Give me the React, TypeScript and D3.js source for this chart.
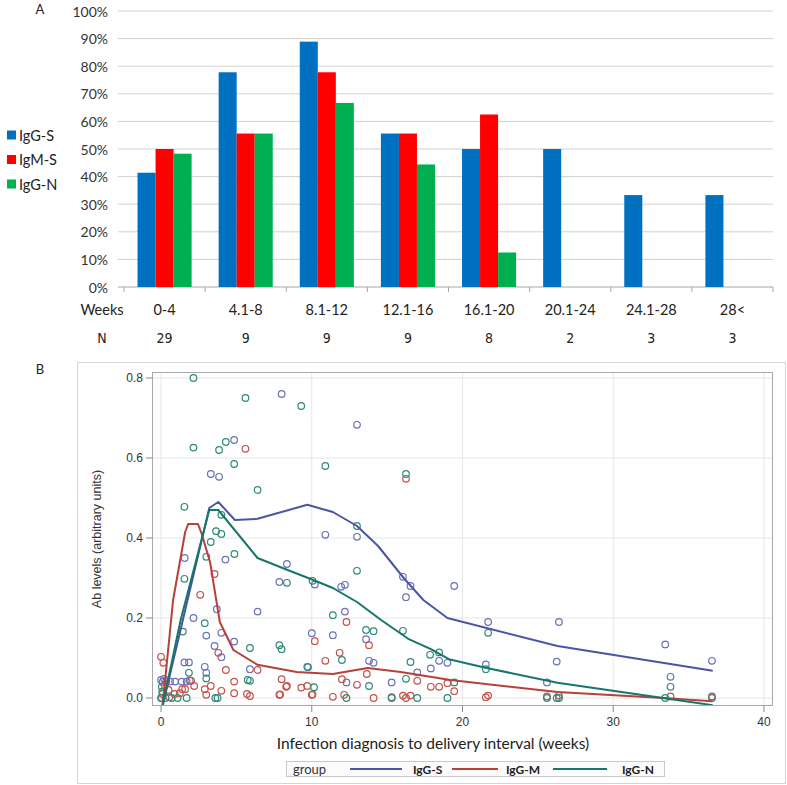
import React from 'react';
import * as d3 from 'd3';

// ---- Panel A data ----
const weekBins = ['0-4', '4.1-8', '8.1-12', '12.1-16', '16.1-20', '20.1-24', '24.1-28', '28<'];
const binN = [29, 9, 9, 9, 8, 2, 3, 3];
const barSeries = ['IgG-S', 'IgM-S', 'IgG-N'];
const igGS = [41.4, 77.8, 88.9, 55.6, 50, 50, 33.3, 33.3];
const igMS = [50, 55.6, 77.8, 55.6, 62.5, 0, 0, 0];
const igGN = [48.3, 55.6, 66.7, 44.4, 12.5, 0, 0, 0];
const pctTicks = [0, 10, 20, 30, 40, 50, 60, 70, 80, 90, 100];

// ---- Panel B data ----
const groups = ['IgG-S', 'IgG-M', 'IgG-N'];
const xTicksB = [0, 10, 20, 30, 40];
const yTicksB = [0, 0.2, 0.4, 0.6, 0.8];

// points [weeks, Ab level]
const ptsS: [number, number][] = [
  [2.1, 0.822], [8.0, 0.76], [13.0, 0.683], [4.85, 0.645], [3.3, 0.56], [3.85, 0.553], [10.9, 0.408], [13.0, 0.403],
  [1.57, 0.35], [4.27, 0.346], [8.35, 0.335], [7.85, 0.29], [10.2, 0.284], [11.95, 0.278], [12.2, 0.283], [3.7, 0.222],
  [6.4, 0.216], [12.2, 0.216], [2.15, 0.2], [16.05, 0.303], [16.55, 0.28], [16.25, 0.252], [19.45, 0.28], [21.7, 0.19],
  [26.4, 0.19], [33.45, 0.134], [26.25, 0.091], [36.55, 0.093], [33.8, 0.053], [21.55, 0.084], [25.6, 0.039], [18.45, 0.093],
  [19.0, 0.088], [17.9, 0.074], [17.0, 0.064], [15.3, 0.039], [10.0, 0.162], [11.4, 0.157], [13.6, 0.147], [13.8, 0.093],
  [14.1, 0.088], [5.9, 0.072], [9.7, 0.078], [12.3, 0.039], [3.0, 0.156], [4.0, 0.163], [3.55, 0.13], [4.0, 0.102],
  [4.85, 0.141], [1.55, 0.089], [1.85, 0.089], [2.9, 0.078], [3.0, 0.063], [0.0, 0.045], [0.1, 0.04], [0.2, 0.048],
  [0.35, 0.042], [0.6, 0.041], [0.93, 0.041], [1.37, 0.041], [1.7, 0.041], [1.9, 0.044], [0.05, 0.0],
];
const ptsM: [number, number][] = [
  [5.6, 0.623], [16.25, 0.548], [3.55, 0.31], [2.6, 0.258], [12.3, 0.19], [10.2, 0.142], [13.8, 0.132], [11.85, 0.113],
  [10.9, 0.093], [6.4, 0.07], [13.65, 0.06], [8.0, 0.047], [8.3, 0.028], [9.3, 0.026], [9.7, 0.03], [12.0, 0.047],
  [13.0, 0.033], [17.0, 0.043], [19.0, 0.037], [19.45, 0.017], [17.9, 0.028], [18.45, 0.028], [15.3, 0.002], [16.05, 0.006],
  [16.55, 0.006], [16.25, 0.0], [21.55, 0.002], [21.7, 0.006], [25.6, 0.004], [26.4, 0.006], [33.8, 0.004], [36.55, 0.004],
  [5.9, 0.005], [7.85, 0.008], [10.0, 0.008], [11.4, 0.003], [12.15, 0.008], [14.1, 0.0], [0.0, 0.103], [0.15, 0.088],
  [3.8, 0.113], [4.3, 0.07], [2.0, 0.043], [2.2, 0.03], [1.4, 0.022], [0.9, 0.01], [0.5, 0.02], [0.25, 0.032],
  [2.9, 0.022], [3.3, 0.03], [3.0, 0.008], [4.0, 0.018], [4.85, 0.041], [4.85, 0.012], [5.7, 0.01], [7.9, 0.009],
  [8.35, 0.03], [10.05, 0.009], [1.6, 0.022], [1.25, 0.012], [0.55, 0.002], [0.1, 0.01],
];
const ptsN: [number, number][] = [
  [2.15, 0.80], [5.6, 0.75], [9.3, 0.73], [2.15, 0.626], [3.85, 0.62], [4.3, 0.64], [4.85, 0.585], [10.9, 0.58],
  [6.4, 0.52], [1.55, 0.478], [4.0, 0.458], [13.0, 0.43], [3.65, 0.417], [4.0, 0.41], [3.3, 0.39], [3.0, 0.353],
  [4.87, 0.36], [1.55, 0.298], [8.35, 0.288], [10.05, 0.293], [13.0, 0.318], [11.4, 0.207], [16.25, 0.56], [21.7, 0.163],
  [33.8, 0.028], [21.55, 0.072], [16.05, 0.168], [16.55, 0.09], [17.85, 0.108], [18.45, 0.114], [16.25, 0.048], [19.45, 0.039],
  [15.3, 0.0], [17.0, 0.0], [19.0, 0.0], [25.6, 0.0], [26.25, 0.0], [26.4, 0.0], [33.45, 0.0], [36.55, 0.0],
  [13.6, 0.17], [14.1, 0.167], [5.9, 0.125], [7.85, 0.132], [8.0, 0.122], [12.0, 0.095], [9.75, 0.077], [5.9, 0.043],
  [10.15, 0.027], [13.8, 0.03], [12.3, 0.0], [1.45, 0.166], [2.9, 0.187], [1.85, 0.063], [3.0, 0.049], [5.75, 0.045],
  [0.0, 0.0], [0.3, 0.0], [0.7, 0.0], [1.1, 0.0], [1.7, 0.0], [3.6, 0.0], [3.75, 0.0], [0.05, 0.028], [0.08, 0.016],
];

// smoothed fit lines
const fitS: [number, number][] = [
  [0.1, -0.02], [3.2, 0.475], [3.8, 0.49], [4.9, 0.445], [6.4, 0.448], [9.7, 0.483], [11.4, 0.465], [13.0, 0.43],
  [14.4, 0.38], [16.1, 0.30], [17.4, 0.245], [19.0, 0.20], [26.3, 0.13], [36.6, 0.068],
];
const fitM: [number, number][] = [
  [0.1, -0.02], [0.8, 0.245], [1.6, 0.415], [1.8, 0.435], [2.45, 0.435], [2.7, 0.41], [3.25, 0.34], [3.9, 0.19],
  [4.8, 0.12], [6.4, 0.083], [9.0, 0.065], [11.4, 0.06], [13.7, 0.075], [15.9, 0.065], [19.2, 0.045], [26.3, 0.015],
  [33.3, 0.0], [36.6, -0.008],
];
const fitN: [number, number][] = [
  [0.1, -0.02], [1.3, 0.195], [3.2, 0.47], [3.8, 0.47], [6.4, 0.35], [8.4, 0.32], [10.1, 0.295], [11.4, 0.275],
  [13.0, 0.24], [14.6, 0.195], [16.4, 0.148], [17.9, 0.122], [19.1, 0.097], [21.6, 0.075], [26.3, 0.038], [33.3, 0.0],
  [36.6, -0.018],
];

const barColors = ['#0070C0', '#FF0000', '#00B050'];
const lineColors = ['#4a55a5', '#b5413a', '#16766a'];
const markColors = ['#6a72b8', '#c4514a', '#2e8b76'];

const fontA = "Lato, 'Open Sans', sans-serif";
const fontN = "'DejaVu Sans Condensed', 'Liberation Sans Narrow', 'DejaVu Sans', sans-serif";
const fontB = "'Liberation Sans', Arial, sans-serif";

export default function App() {
  const W = 787;
  const H = 785;

  // Panel A scales
  const xA = d3.scaleBand<string>().domain(weekBins).range([124, 773]);
  const xInner = d3.scaleBand<string>().domain(barSeries).range([0, xA.bandwidth()]).paddingOuter(0.75);
  const yA = d3.scaleLinear().domain([0, 100]).range([287, 11]);
  const barVals = [igGS, igMS, igGN];

  // Panel B scales
  const xB = d3.scaleLinear().domain([-0.6, 40.6]).range([152, 773]);
  const yB = d3.scaleLinear().domain([-0.02, 0.815]).range([706, 372]);
  const line = d3.line<[number, number]>().x(d => xB(d[0])).y(d => yB(d[1]));
  const pts = [ptsS, ptsM, ptsN];
  const fits = [fitS, fitM, fitN];

  const legendItems = [
    { x1: 350, x2: 402, tx: 413 },
    { x1: 452, x2: 498, tx: 506 },
    { x1: 553, x2: 607, tx: 622 },
  ];

  return (
    <div style={{ position: 'absolute', left: 0, top: 0 }}>
      <svg width={W} height={H} style={{ display: 'block', background: '#fff' }}>
        {/* ===== Panel A ===== */}
        <text x={40} y={9} fontFamily={fontA} fontSize={13} fill="#222" textAnchor="middle" dominantBaseline="central">A</text>
        <g>
          {pctTicks.map(t => (
            <g key={t}>
              <line x1={118} x2={773} y1={yA(t)} y2={yA(t)} stroke={t === 0 ? '#a6a6a6' : '#d0d0d0'} strokeWidth={1} />
              <text x={108} y={yA(t)} fontFamily={fontA} fontSize={14} fill="#333" textAnchor="end" dominantBaseline="central">{t}%</text>
            </g>
          ))}
          {[...weekBins.map(b => xA(b)!), 773].map((x, i) => (
            <line key={i} x1={x} x2={x} y1={287} y2={292} stroke="#a6a6a6" />
          ))}
          {weekBins.map((b, i) => (
            <g key={b}>
              {barSeries.map((s, j) => {
                const v = barVals[j][i];
                if (!v) return null;
                return (
                  <rect key={s} x={xA(b)! + xInner(s)!} y={yA(v)} width={xInner.bandwidth()} height={yA(0) - yA(v)} fill={barColors[j]} />
                );
              })}
              <text x={xA(b)! + xA.bandwidth() / 2} y={309} fontFamily={fontA} fontSize={14.5} fill="#222" textAnchor="middle" dominantBaseline="central">{b}</text>
              <text x={xA(b)! + xA.bandwidth() / 2} y={338} fontFamily={fontN} fontStretch="condensed" fontSize={14} fill="#222" textAnchor="middle" dominantBaseline="central">{binN[i]}</text>
            </g>
          ))}
          <text x={102} y={309} fontFamily={fontA} fontSize={14.5} fill="#222" textAnchor="middle" dominantBaseline="central">Weeks</text>
          <text x={102} y={338} fontFamily={fontN} fontStretch="condensed" fontSize={14} fill="#222" textAnchor="middle" dominantBaseline="central">N</text>
          {barSeries.map((s, j) => (
            <g key={s} transform={`translate(7, ${135 + j * 24.5})`}>
              <rect x={0} y={-4.5} width={9} height={9} fill={barColors[j]} />
              <text x={12} y={0} fontFamily={fontA} fontSize={14.5} fill="#222" dominantBaseline="central">{s}</text>
            </g>
          ))}
        </g>

        {/* ===== Panel B ===== */}
        <text x={40} y={369} fontFamily={fontA} fontSize={13} fill="#222" textAnchor="middle" dominantBaseline="central">B</text>
        <rect x={77.5} y={362.5} width={708} height={421} fill="none" stroke="#d4d4d4" />
        <defs>
          <clipPath id="plotClip">
            <rect x={152} y={372} width={621} height={334} />
          </clipPath>
        </defs>
        {/* grid */}
        {xTicksB.map(t => (
          <line key={'gx' + t} x1={xB(t)} x2={xB(t)} y1={372} y2={706} stroke="#e6e6e6" />
        ))}
        {yTicksB.map(t => (
          <line key={'gy' + t} x1={152} x2={773} y1={yB(t)} y2={yB(t)} stroke="#e6e6e6" />
        ))}
        <g clipPath="url(#plotClip)">
          {pts.map((arr, g) => (
            <g key={g}>
              {arr.map((p, i) => (
                <circle key={i} cx={xB(p[0])} cy={yB(p[1])} r={3.3} fill="none" stroke={markColors[g]} strokeWidth={1.2} />
              ))}
            </g>
          ))}
          {fits.map((f, g) => (
            <path key={g} d={line(f)!} fill="none" stroke={lineColors[g]} strokeWidth={2} strokeLinejoin="round" />
          ))}
        </g>
        <rect x={152.5} y={372.5} width={620} height={333} fill="none" stroke="#a8a8a8" />
        {/* axes ticks */}
        {yTicksB.map(t => (
          <g key={'ty' + t}>
            <line x1={146} x2={152} y1={yB(t)} y2={yB(t)} stroke="#888" />
            <text x={143} y={yB(t)} fontFamily={fontB} fontSize={12} fill="#333" textAnchor="end" dominantBaseline="central">{t.toFixed(1)}</text>
          </g>
        ))}
        {xTicksB.map(t => (
          <g key={'tx' + t}>
            <line x1={xB(t)} x2={xB(t)} y1={706} y2={712} stroke="#888" />
            <text x={xB(t)} y={722} fontFamily={fontB} fontSize={12} fill="#333" textAnchor="middle" dominantBaseline="central">{t}</text>
          </g>
        ))}
        <text transform="translate(97, 539) rotate(-90)" fontFamily={fontB} fontSize={12.5} fill="#333" textAnchor="middle" dominantBaseline="central">Ab levels (arbitrary units)</text>
        <text x={433} y={743} fontFamily={fontA} fontSize={15.5} fill="#222" textAnchor="middle" dominantBaseline="central">Infection diagnosis to delivery interval (weeks)</text>
        {/* legend */}
        <rect x={286.5} y={761.5} width={378} height={15} fill="#fbfbfb" stroke="#c8c8c8" />
        <text x={293} y={769} fontFamily={fontA} fontSize={13} fill="#333" dominantBaseline="central">group</text>
        {groups.map((g, i) => (
          <g key={g}>
            <line x1={legendItems[i].x1} x2={legendItems[i].x2} y1={769} y2={769} stroke={lineColors[i]} strokeWidth={2} />
            <text x={legendItems[i].tx} y={769} fontFamily={fontA} fontSize={12} fontWeight="bold" fill="#222" dominantBaseline="central">{g}</text>
          </g>
        ))}
      </svg>
    </div>
  );
}
